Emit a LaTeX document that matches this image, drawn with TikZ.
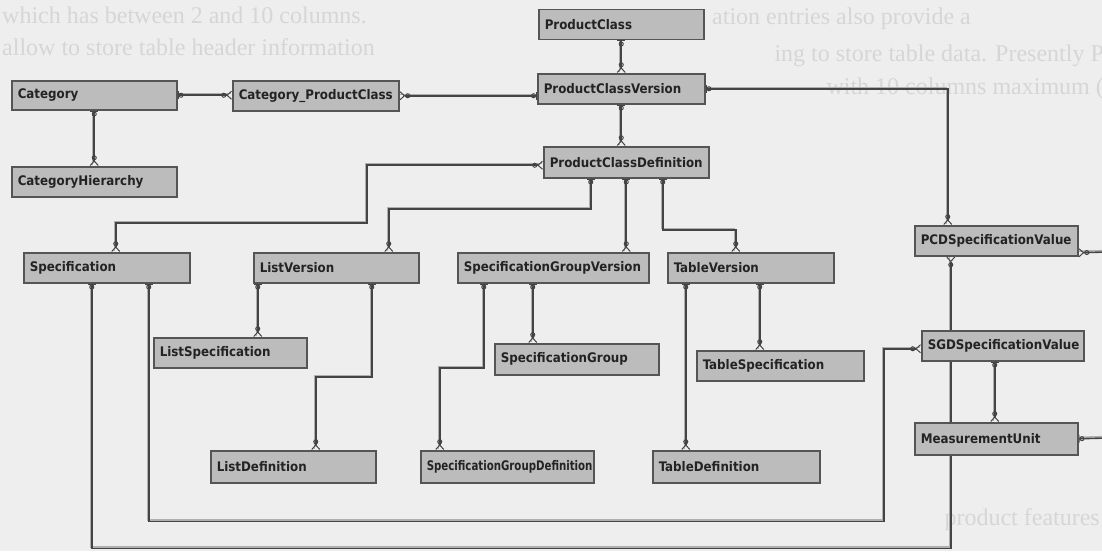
\documentclass[tikz,border=0pt]{standalone}
\usepackage{fontspec}
\setmainfont{Liberation Serif}
\newfontfamily\boxfont{DejaVu Sans Condensed}
\usetikzlibrary{arrows.meta,backgrounds}

\definecolor{paper}{RGB}{238,238,238}
\definecolor{boxfill}{RGB}{188,188,188}
\definecolor{boxline}{RGB}{85,85,85}
\definecolor{linkline}{RGB}{68,68,68}
\definecolor{linkhalo}{RGB}{175,175,175}
\definecolor{ghost}{RGB}{214,214,214}
\definecolor{labelink}{RGB}{35,35,35}

\tikzset{
  entity/.style={draw=boxline, fill=boxfill, line width=1.5pt, anchor=north west,
    inner xsep=6pt, inner ysep=0pt, align=left, text=labelink,
    font=\boxfont\bfseries\fontsize{13.2}{15}\selectfont},
  link/.style={draw=linkline, line width=1.6pt,
    preaction={draw=linkhalo, line width=1.3pt, arrows=-,
      transform canvas={xshift=-1.5pt,yshift=1.5pt}}},
  ghosttext/.style={text=ghost, inner sep=0pt, font=\fontsize{24}{24}\selectfont},
  ring/.tip={Circle[open,length=5pt,line width=1pt]},
  onebar/.tip={Bar[width=8pt,line width=1pt]},
  crow/.tip={Straight Barb[reversed,length=4.5pt,width=8pt,line width=1pt]},
  % ER end marks: zero-or-one (bar and ring) and zero-or-many (ring and crow's foot)
  zo-zm/.style={{onebar[] ring[]}-{ring[] crow[]}},
  zm-zm/.style={{crow[] ring[]}-{ring[] crow[]}},
  zm-zo/.style={{crow[] ring[]}-{ring[] onebar[]}},
  zm start/.style={{crow[] ring[]}-},
  zo start/.style={{onebar[] ring[]}-},
}

\begin{document}
\begin{tikzpicture}[x=1pt,y=-1pt]
  \useasboundingbox (0,0) rectangle (1102,551);

  % entities
  \node[entity, text width=153pt, minimum height=29pt] (cat)   at (11,80)  {Category};
  \node[entity, text width=154pt, minimum height=30pt] (cpc)   at (232,80) {Category\_ProductClass};
  \node[entity, text width=153pt, minimum height=30pt] (pc)    at (538,9)  {ProductClass};
  \node[entity, text width=155pt, minimum height=30pt] (pcv)   at (537,73) {ProductClassVersion};
  \node[entity, text width=153pt, minimum height=31pt] (pcd)   at (543,146) {ProductClassDefinition};
  \node[entity, text width=153pt, minimum height=30pt] (ch)    at (11,166) {CategoryHierarchy};
  \node[entity, text width=154pt, minimum height=30pt] (spec)  at (23,252) {Specification};
  \node[entity, text width=153pt, minimum height=30pt] (lv)    at (253,252) {ListVersion};
  \node[entity, text width=179pt, minimum height=30pt] (sgv)   at (457,252) {SpecificationGroupVersion};
  \node[entity, text width=154pt, minimum height=30pt] (tv)    at (667,252) {TableVersion};
  \node[entity, text width=151pt, minimum height=30pt] (pcdsv) at (914,225) {PCDSpecificationValue};
  \node[entity, text width=141pt, minimum height=30pt] (ls)    at (153,337) {ListSpecification};
  \node[entity, text width=152pt, minimum height=31pt] (sg)    at (494,343) {SpecificationGroup};
  \node[entity, text width=155pt, minimum height=30pt] (ts)    at (696,350) {TableSpecification};
  \node[entity, text width=150pt, minimum height=30pt] (sgdsv) at (921,330) {SGDSpecificationValue};
  \node[entity, text width=151pt, minimum height=32pt] (mu)    at (914,422) {MeasurementUnit};
  \node[entity, text width=153pt, minimum height=32pt] (ld)    at (210,450) {ListDefinition};
  \node[entity, text width=161pt, minimum height=32pt] (sgd)   at (420,450) {\scalebox{0.86}[1]{SpecificationGroupDefinition}};
  \node[entity, text width=155pt, minimum height=32pt] (td)    at (652,450) {TableDefinition};

  % loose ends running off the right edge
  \coordinate (pcdout) at (1106,252);
  \coordinate (muout)  at (1106,438);

  \begin{scope}[on background layer]
    \fill[paper] (0,0) rectangle (1102,551);

    % faint page text behind the schema
    \node[ghosttext, anchor=base west] (g1) at (2,24) {which has between 2 and 10 columns.};
    \node[ghosttext, anchor=base west] (g2) at (712,25) {ation entries also provide a};
    \node[ghosttext, anchor=base west] (g3) at (2,56) {allow to store table header information};
    \node[ghosttext, anchor=base east] (g4) at (1104,62) {ing to store table data. Presently P};
    \node[ghosttext, anchor=base east] (g5) at (1104,94) {with 10 columns maximum (};
    \node[ghosttext, anchor=base east] (g6) at (1100,525) {product features};

    % category side
    \draw[link, zo-zm] (cat.south) -- (cat.south |- ch.north);
    \draw[link, zo-zm] (cat.east) -- (cat.east -| cpc.west);
    \draw[link, zm-zo] (cpc.east) -- (cpc.east -| pcv.west);
    % product class chain
    \draw[link, zo-zm] (pc.south) -- (pc.south |- pcv.north);
    \draw[link, zo-zm] (pcv.south) -- (pcv.south |- pcd.north);
    \draw[link, zo-zm] (pcv.east) -| ([xshift=-48.5pt]pcdsv.north);
    % definition to its parts
    \draw[link, zm-zm] ([yshift=-3pt]pcd.west) -- ++(-176,0) |- ([xshift=9pt,yshift=29pt]spec.north) -- ([xshift=9pt]spec.north);
    \draw[link, zo-zm] ([xshift=-35.5pt]pcd.south) |- ([xshift=52.5pt,yshift=43pt]lv.north) -- ([xshift=52.5pt]lv.north);
    \draw[link, zo-zm] (pcd.south) -- (pcd.south |- sgv.north);
    \draw[link, zo-zm] ([xshift=36.5pt]pcd.south) |- ([xshift=-15pt,yshift=22pt]tv.north) -- ([xshift=-15pt]tv.north);
    % specification values
    \draw[link, zo-zm] ([xshift=-15pt]spec.south) -- ++(0,265) -| ([xshift=-45.5pt]pcdsv.south);
    \draw[link, zo-zm] ([xshift=42pt]spec.south) -- ++(0,238) -- ++(735,0) |- ([yshift=-3pt]sgdsv.west);
    % list versions
    \draw[link, zo-zm] ([xshift=-78.5pt]lv.south) -- ([xshift=-78.5pt]lv.south |- ls.north);
    \draw[link, zo-zm] ([xshift=35.5pt]lv.south) |- ([xshift=22.5pt,yshift=73pt]ld.north) -- ([xshift=22.5pt]ld.north);
    % specification group versions
    \draw[link, zo-zm] ([xshift=-69.5pt]sgv.south) |- ([xshift=-67.5pt,yshift=82pt]sgd.north) -- ([xshift=-67.5pt]sgd.north);
    \draw[link, zo-zm] ([xshift=-20.5pt]sgv.south) -- ([xshift=-20.5pt]sgv.south |- sg.north);
    % table versions
    \draw[link, zo-zm] ([xshift=-65pt]tv.south) -- ([xshift=-65pt]tv.south |- td.north);
    \draw[link, zo-zm] ([xshift=9pt]tv.south) -- ([xshift=9pt]tv.south |- ts.north);
    % values and units
    \draw[link, zo-zm] ([xshift=-8pt]sgdsv.south) -- ([xshift=-8pt]sgdsv.south |- mu.north);
    \draw[link, zm start] ([yshift=-12pt]pcdsv.east) -- (pcdout);
    \draw[link, zo start] (mu.east) -- (muout);
  \end{scope}
\end{tikzpicture}
\end{document}
